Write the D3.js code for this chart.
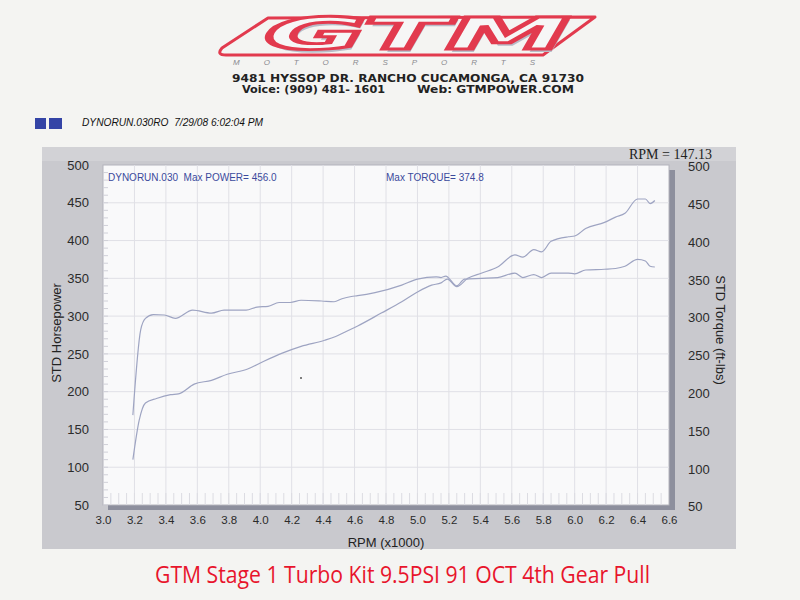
<!DOCTYPE html>
<html><head><meta charset="utf-8">
<script src="https://cdn.jsdelivr.net/npm/d3@7"></script>
<style>
body{margin:0;background:#f4f4f2;}
svg{display:block;}
text{white-space:pre;}
</style></head>
<body>
<svg id="c" width="800" height="600"></svg>
<script>
// ---- data ----
const xTicks = [3.0,3.2,3.4,3.6,3.8,4.0,4.2,4.4,4.6,4.8,5.0,5.2,5.4,5.6,5.8,6.0,6.2,6.4,6.6];
const yTicks = [50,100,150,200,250,300,350,400,450,500];
const torqueRpm = [3.19,3.24,3.27,3.32,3.39,3.46,3.57,3.69,3.77,3.91,3.98,4.05,4.12,4.19,4.26,4.39,4.47,4.52,4.58,4.62,4.73,4.90,5.00,5.12,5.15,5.18,5.25,5.30,5.41,5.51,5.62,5.67,5.74,5.79,5.85,5.96,6.00,6.07,6.19,6.26,6.32,6.40,6.45,6.48,6.51];
const torque    = [169,282,297,302,301.5,297,308,304,308,308,312,313,318,318,321,320,319,323,326,327,331,341,349,352,351,353,340,349,350,351,357,351,355,351,357,357,356,361,362,363,366,375,373,366,365];
const hpRpm = [3.19,3.23,3.27,3.34,3.43,3.48,3.58,3.69,3.79,3.92,4.02,4.14,4.26,4.41,4.48,4.55,4.62,4.77,4.90,5.00,5.09,5.15,5.19,5.25,5.32,5.41,5.51,5.62,5.67,5.74,5.79,5.85,5.96,6.00,6.07,6.19,6.26,6.32,6.40,6.45,6.48,6.51];
const hp    = [110,162,185,191,196,197,210,215,223,230,240,251,260,268,273,280,287,304,319,332,341,344,349,339,350,357,365,381,378,388,385,399,405,406,416,424,431,436,455,455,449,453];
const runLabel = "DYNORUN.030  Max POWER= 456.0";
const torqueLabel = "Max TORQUE= 374.8";
const headerText = "DYNORUN.030RO  7/29/08 6:02:04 PM";
const rpmReadout = "RPM = 147.13";
const title = "GTM Stage 1 Turbo Kit 9.5PSI 91 OCT 4th Gear Pull";

const svg = d3.select("#c");
const SANS = "'Liberation Sans', Arial, sans-serif";

// ---- logo ----
const logo = svg.append("g");
logo.append("path")
  .attr("d","M268,18 L595,17 L543,55 L226,55 Q216,55 222,48 Z")
  .attr("fill","none").attr("stroke","#e23a4e").attr("stroke-width",3).attr("stroke-linejoin","round");
logo.append("text").attr("x",0).attr("y",0)
  .attr("transform","translate(258,52) skewX(-30)")
  .attr("font-family","'DejaVu Sans', sans-serif").attr("font-weight","bold")
  .attr("font-size",44).attr("textLength",305).attr("lengthAdjust","spacingAndGlyphs")
  .attr("fill","#b8bcc8").text("GTM");
logo.append("text").attr("x",0).attr("y",0)
  .attr("transform","translate(255,49) skewX(-30)")
  .attr("font-family","'DejaVu Sans', sans-serif").attr("font-weight","bold")
  .attr("font-size",44).attr("textLength",305).attr("lengthAdjust","spacingAndGlyphs")
  .attr("fill","#f6f6f6").attr("stroke","#e23a4e").attr("stroke-width",3).text("GTM");
logo.append("text").attr("x",233).attr("y",65)
  .attr("font-family",SANS).attr("font-style","italic").attr("font-size",8)
  .attr("fill","#8a8a90").attr("textLength",302).attr("lengthAdjust","spacing")
  .text("MOTORSPORTS");
const addr = svg.append("g").attr("font-family","'DejaVu Sans', sans-serif").attr("font-weight","bold")
  .attr("font-size",10.5).attr("fill","#222");
addr.append("text").attr("x",232).attr("y",81.5).attr("textLength",352).attr("lengthAdjust","spacingAndGlyphs")
  .text("9481 HYSSOP DR. RANCHO CUCAMONGA, CA 91730");
addr.append("text").attr("x",242).attr("y",93).attr("textLength",143).attr("lengthAdjust","spacingAndGlyphs")
  .text("Voice: (909) 481- 1601");
addr.append("text").attr("x",417).attr("y",93).attr("textLength",157).attr("lengthAdjust","spacingAndGlyphs")
  .text("Web: GTMPOWER.COM");

// ---- header ----
svg.append("rect").attr("x",35).attr("y",118).attr("width",11).attr("height",11).attr("fill","#3444a6");
svg.append("rect").attr("x",49).attr("y",118).attr("width",13).attr("height",11).attr("fill","#3444a6");
svg.append("text").attr("x",82).attr("y",125.5).attr("font-family",SANS).attr("font-style","italic")
  .attr("font-size",10).attr("fill","#111").attr("textLength",181).attr("lengthAdjust","spacingAndGlyphs")
  .text(headerText);

// ---- panel ----
svg.append("rect").attr("x",42).attr("y",147).attr("width",694).attr("height",402).attr("fill","#c9c9ce");
svg.append("rect").attr("x",42).attr("y",147).attr("width",694).attr("height",14).attr("fill","#d2d2d6");

const x = d3.scaleLinear().domain([3.0,6.6]).range([103,669]);
const y = d3.scaleLinear().domain([50,500]).range([505,165]);

// shadow + plot box
svg.append("rect").attr("x",108).attr("y",170).attr("width",x(6.6)-103+1).attr("height",340).attr("fill","#8d8f9d");
svg.append("rect").attr("x",x(3.0)).attr("y",y(500)).attr("width",x(6.6)-x(3.0)).attr("height",y(50)-y(500))
  .attr("fill","#f9f9fa").attr("stroke","#b4b4bc").attr("stroke-width",1);

// grid
const grid = svg.append("g").attr("stroke","#e0e0e6").attr("stroke-width",1);
grid.selectAll("line.v").data(xTicks.slice(1,-1)).join("line")
  .attr("x1",d=>x(d)).attr("x2",d=>x(d)).attr("y1",y(500)).attr("y2",y(50));
grid.selectAll("line.h").data(yTicks.slice(1,-1)).join("line")
  .attr("x1",x(3.0)).attr("x2",x(6.6)).attr("y1",d=>y(d)).attr("y2",d=>y(d));
// minor ticks
const minorY = d3.range(50,500,10);
svg.append("g").attr("stroke","#d0d0d8").selectAll("line").data(minorY).join("line")
  .attr("x1",x(3.0)).attr("x2",x(3.0)+5).attr("y1",d=>y(d)).attr("y2",d=>y(d));
const minorX = d3.range(3.05,6.6,0.05);
svg.append("g").attr("stroke","#dcdce2").selectAll("line").data(minorX).join("line")
  .attr("x1",d=>x(d)).attr("x2",d=>x(d)).attr("y1",y(50)-12).attr("y2",y(50));

// axes labels (tick text via d3 axes)
const axL = d3.axisLeft(y).tickValues(yTicks).tickSize(0).tickPadding(0).tickFormat(d3.format("d"));
const gL = svg.append("g").attr("transform","translate(89,0)").call(axL);
const axR = d3.axisRight(y).tickValues(yTicks).tickSize(0).tickPadding(0).tickFormat(d3.format("d"));
const gR = svg.append("g").attr("transform","translate(688,0)").call(axR);
[gL,gR].forEach(g=>{g.select(".domain").remove();
  g.selectAll("text").attr("font-family",SANS).attr("font-size",13).attr("fill","#2b2b2b");});
gR.selectAll("text").attr("dy","0.45em");
const axB = d3.axisBottom(x).tickValues(xTicks).tickSize(0).tickPadding(0).tickFormat(d3.format(".1f"));
const gB = svg.append("g").attr("transform","translate(0,516)").call(axB);
gB.select(".domain").remove();
gB.selectAll("text").attr("font-family",SANS).attr("font-size",11.5).attr("fill","#2b2b2b");

svg.append("text").attr("x",386).attr("y",547).attr("text-anchor","middle").attr("font-family",SANS)
  .attr("font-size",13).attr("fill","#222").text("RPM (x1000)");
svg.append("text").attr("transform","translate(61,333) rotate(-90)").attr("text-anchor","middle")
  .attr("font-family",SANS).attr("font-size",13).attr("fill","#222").text("STD Horsepower");
svg.append("text").attr("transform","translate(716,330) rotate(90)").attr("text-anchor","middle")
  .attr("font-family",SANS).attr("font-size",13).attr("fill","#222").text("STD Torque (ft-lbs)");
svg.append("text").attr("x",629).attr("y",158.5).attr("font-family","'Liberation Serif', 'DejaVu Serif', serif")
  .attr("font-size",14).attr("fill","#222").text(rpmReadout);

// in-plot annotations
svg.append("text").attr("x",108).attr("y",181).attr("font-family",SANS).attr("font-size",10)
  .attr("fill","#3b4a9c").text(runLabel);
svg.append("text").attr("x",386).attr("y",181).attr("font-family",SANS).attr("font-size",10)
  .attr("fill","#3b4a9c").text(torqueLabel);

// curves
const line = d3.line().x(d=>x(d[0])).y(d=>y(d[1])).curve(d3.curveMonotoneX);
svg.append("path").datum(d3.zip(torqueRpm,torque)).attr("d",line)
  .attr("fill","none").attr("stroke","#9ea4c2").attr("stroke-width",1.2);
svg.append("path").datum(d3.zip(hpRpm,hp)).attr("d",line)
  .attr("fill","none").attr("stroke","#9ea4c2").attr("stroke-width",1.2);
svg.append("circle").attr("cx",301).attr("cy",378).attr("r",1).attr("fill","#555");

// title
svg.append("text").attr("x",155).attr("y",583)
  .attr("font-family","'Liberation Sans Narrow', 'Open Sans', sans-serif")
  .attr("font-size",24).attr("fill","#e8142c").attr("textLength",495).attr("lengthAdjust","spacingAndGlyphs")
  .text(title);
</script>
</body></html>
